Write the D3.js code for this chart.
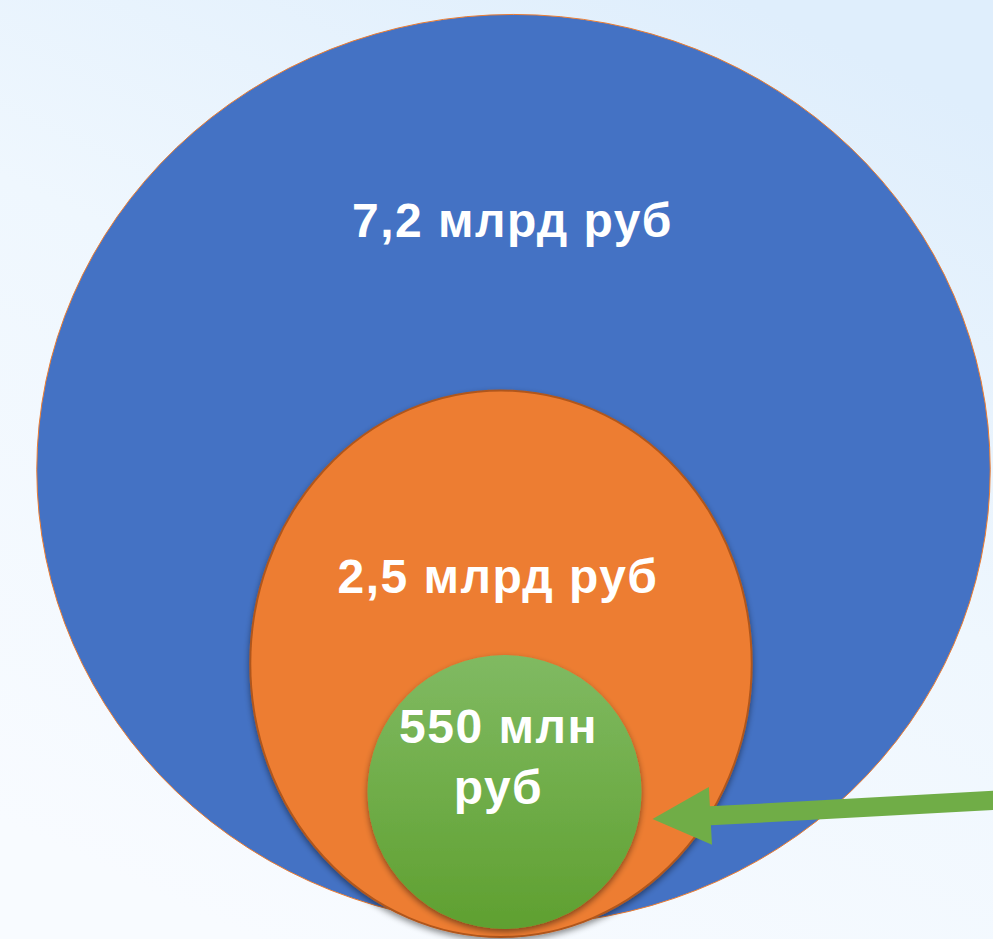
<!DOCTYPE html>
<html>
<head>
<meta charset="utf-8">
<script src="https://cdn.jsdelivr.net/npm/d3@7"></script>
<style>
  html, body { margin: 0; padding: 0; overflow: hidden; }
</style>
</head>
<body>
<div id="chart"></div>
<script>
// values in billion rub
const names = ["total", "part", "small"];
const values = [7.2, 2.5, 0.55];
const labels = [["7,2 млрд руб"], ["2,5 млрд руб"], ["550 млн", "руб"]];
const fills = ["#4472C4", "#ED7D31", "url(#greenGrad)"];

var width = 993;
var height = 939;

var svg = d3.select("#chart")
  .append("svg")
    .attr("width", width)
    .attr("height", height);

var defs = svg.append("defs");

var bg = defs.append("linearGradient")
  .attr("id", "bgGrad")
  .attr("x1", 0.25).attr("y1", 1).attr("x2", 0.75).attr("y2", 0);
bg.append("stop").attr("offset", "0%").attr("stop-color", "#F8FBFF");
bg.append("stop").attr("offset", "55%").attr("stop-color", "#EFF7FE");
bg.append("stop").attr("offset", "100%").attr("stop-color", "#DFEEFC");

var gg = defs.append("linearGradient")
  .attr("id", "greenGrad")
  .attr("x1", 0).attr("y1", 0).attr("x2", 0).attr("y2", 1);
gg.append("stop").attr("offset", "0%").attr("stop-color", "#80BA62");
gg.append("stop").attr("offset", "100%").attr("stop-color", "#5FA030");

var shadow = defs.append("filter")
  .attr("id", "shadow")
  .attr("x", "-20%").attr("y", "-20%").attr("width", "140%").attr("height", "140%");
shadow.append("feDropShadow")
  .attr("dx", 0).attr("dy", 3).attr("stdDeviation", 3)
  .attr("flood-color", "#000").attr("flood-opacity", 0.45);

svg.append("rect")
  .attr("width", width).attr("height", height)
  .attr("fill", "url(#bgGrad)");

// size of each bubble (mean radius) from its value
var r = d3.scaleLinear()
  .domain([0.55, 2.5, 7.2])
  .range([137, 262, 466]);

// layout: bottom line, horizontal centre, aspect (ry/rx)
var layout = [
  { cx: 513.5, bottom: 925, aspect: 0.955, stroke: "#ED7D31", sw: 1, filter: null },
  { cx: 501, bottom: 937, aspect: 1.09, stroke: "#B0561C", sw: 2, filter: "url(#shadow)" },
  { cx: 504.5, bottom: 929, aspect: 1.0, stroke: "none", sw: 0, filter: "url(#shadow)" }
];

var nodes = values.map(function(v, i) {
  var mean = r(v);
  var rx = 2 * mean / (1 + layout[i].aspect);
  var ry = rx * layout[i].aspect;
  return { name: names[i], value: v, label: labels[i], fill: fills[i],
           cx: layout[i].cx, cy: layout[i].bottom - ry, rx: rx, ry: ry, lay: layout[i] };
});

svg.selectAll("ellipse.bubble")
  .data(nodes)
  .enter()
  .append("ellipse")
    .attr("class", "bubble")
    .attr("cx", function(d) { return d.cx; })
    .attr("cy", function(d) { return d.cy; })
    .attr("rx", function(d) { return d.rx; })
    .attr("ry", function(d) { return d.ry; })
    .attr("fill", function(d) { return d.fill; })
    .attr("stroke", function(d) { return d.lay.stroke; })
    .attr("stroke-width", function(d) { return d.lay.sw; })
    .attr("filter", function(d) { return d.lay.filter; });

// label baseline, as fraction of ry above centre
var labelPos = [
  { dx: -1, dy: -0.512, lh: 0 },
  { dx: -3, dy: -0.258, lh: 0 },
  { dx: -6, dy: -0.36, lh: 61 }
];

nodes.forEach(function(d, i) {
  var t = svg.append("text")
    .attr("x", d.cx + labelPos[i].dx)
    .attr("y", d.cy + labelPos[i].dy * d.ry)
    .attr("text-anchor", "middle")
    .attr("fill", "#fff")
    .style("font-family", "'Liberation Sans', Arial, sans-serif")
    .style("font-weight", "bold")
    .style("font-size", "48px")
    .style("letter-spacing", "1.5px");
  d.label.forEach(function(line, j) {
    t.append("tspan")
      .attr("x", d.cx + labelPos[i].dx)
      .attr("dy", j === 0 ? 0 : labelPos[i].lh)
      .text(line);
  });
});

// arrow pointing at the small bubble
var green = nodes[2];
var start = [1000, 800];
var tip = [green.cx + green.rx + 11, 819];
var ang = Math.atan2(tip[1] - start[1], tip[0] - start[0]);
var headLen = 58, headHalf = 29, shaftHalf = 9.5;
var ux = Math.cos(ang), uy = Math.sin(ang);
var px = -uy, py = ux;
var base = [tip[0] - ux * headLen, tip[1] - uy * headLen];
var pts = [
  [start[0] + px * shaftHalf, start[1] + py * shaftHalf],
  [base[0] + px * shaftHalf, base[1] + py * shaftHalf],
  [base[0] + px * headHalf, base[1] + py * headHalf],
  tip,
  [base[0] - px * headHalf, base[1] - py * headHalf],
  [base[0] - px * shaftHalf, base[1] - py * shaftHalf],
  [start[0] - px * shaftHalf, start[1] - py * shaftHalf]
];

svg.append("path")
  .attr("d", d3.line()(pts) + "Z")
  .attr("fill", "#70AD47");
</script>
</body>
</html>
